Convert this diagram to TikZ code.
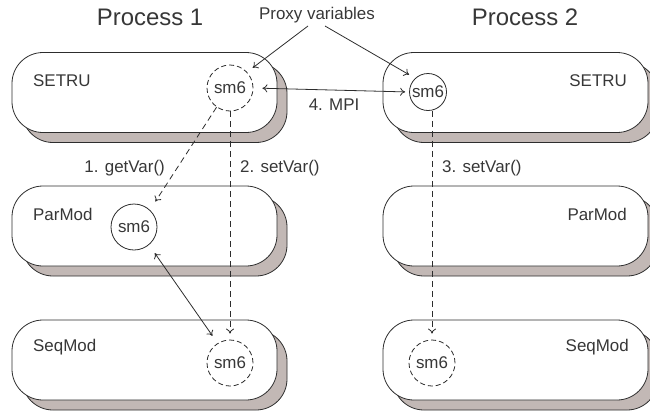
\documentclass[tikz,border=0pt]{standalone}
\usepackage{fontspec}
\setmainfont{Liberation Sans}
\usetikzlibrary{shadows,arrows.meta}
\definecolor{shad}{RGB}{194,184,181}
\definecolor{ink}{RGB}{45,45,45}
\definecolor{txt}{RGB}{55,55,55}
\tikzset{
  box/.style={draw=ink, line width=0.8bp, fill=white, rounded corners=31bp,
    minimum width=265bp, minimum height=80bp, inner sep=0pt,
    general shadow={shadow xshift=10bp, shadow yshift=-10bp, fill=shad, draw=ink, line width=0.8bp}},
  var/.style={circle, draw=ink, line width=0.8bp, fill=white, inner sep=0pt, minimum size=46bp,
    text=txt, font=\fontsize{17}{20}\selectfont},
  pvar/.style={var, dashed, dash pattern=on 5bp off 3bp},
  lbl/.style={text=txt, font=\fontsize{17}{20}\selectfont, inner sep=0pt},
  big/.style={text=txt, font=\fontsize{24}{28}\selectfont, inner sep=0pt},
  arr/.style={draw=ink, line width=0.8bp, -{To[length=5bp,width=8bp]}},
  darr/.style={draw=ink, line width=0.8bp, {To[length=5bp,width=8bp]}-{To[length=5bp,width=8bp]}},
  dasharr/.style={arr, dash pattern=on 6bp off 4bp},
}
\begin{document}
\begin{tikzpicture}[x=1bp,y=-1bp]
\useasboundingbox (0,0) rectangle (650,415);
% boxes
\node[box] (b1) at (144.5,92.5) {};
\node[box] (b2) at (144.5,226) {};
\node[box] (b3) at (144.5,360) {};
\node[box] (b4) at (515.5,92.5) {};
\node[box] (b5) at (515.5,226) {};
\node[box] (b6) at (515.5,360) {};
% box labels
\node[lbl, anchor=west] (l1) at (33,81) {SETRU};
\node[lbl, anchor=west] (l2) at (33,214) {ParMod};
\node[lbl, anchor=west] (l3) at (33,347) {SeqMod};
\node[lbl, anchor=east] (l4) at (627,81) {SETRU};
\node[lbl, anchor=east] (l5) at (627,214) {ParMod};
\node[lbl, anchor=east] (l6) at (629,347) {SeqMod};
% titles
\node[big] (p1) at (150,17) {Process 1};
\node[big] (p2) at (525,17) {Process 2};
\node[lbl] (proxy) at (317,15) {Proxy variables};
% variables
\node[pvar] (v1) at (230,88) {sm6};
\node[var, minimum size=37bp] (v2) at (428,92) {sm6};
\node[var] (v3) at (134,227) {sm6};
\node[pvar] (v4) at (230,363) {sm6};
\node[pvar] (v5) at (432,363) {sm6};
% connectors
\coordinate (pa) at (308,26);
\coordinate (pb) at (325,26);
\draw[arr, shorten >=7bp] (pa) -- (v1.43);
\draw[arr, shorten >=7bp] (pb) -- (v2.133);
\draw[darr, shorten <=9bp, shorten >=4bp] (v1.east) -- (v2.west);
\node[lbl] (mpi) at (334,105) {4. MPI};
\draw[dasharr, shorten >=10bp] (v1.235) -- (v3.47);
\node[lbl, anchor=east] (g1) at (165,168) {1. getVar()};
\draw[dasharr, shorten >=6bp] (v1.south) -- (v4.north);
\node[lbl, anchor=west] (s2) at (240,168) {2. setVar()};
\draw[dasharr, shorten >=6bp] (v5.north |- v2.south) -- (v5.north);
\node[lbl, anchor=west] (s3) at (442,168) {3. setVar()};
\draw[darr, shorten <=10bp, shorten >=9bp] (v3.310) -- (v4.122);
\end{tikzpicture}
\end{document}
